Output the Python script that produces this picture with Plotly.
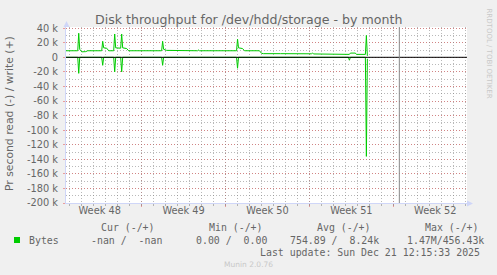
import plotly.graph_objects as go

# ---------------- data ----------------
write_times = [
    "2025-11-24 16:00", "2025-11-25 16:00", "2025-11-25 18:00", "2025-11-25 20:00",
    "2025-11-26 00:00", "2025-11-26 08:00", "2025-11-26 12:00", "2025-11-27 16:00",
    "2025-11-27 18:00", "2025-11-27 20:00", "2025-11-28 02:00", "2025-11-28 06:00",
    "2025-11-28 16:00", "2025-11-28 18:00", "2025-11-28 20:00", "2025-11-29 06:00",
    "2025-11-29 08:00", "2025-11-29 10:00", "2025-11-29 18:00", "2025-11-29 22:00",
    "2025-12-02 16:00", "2025-12-02 18:00", "2025-12-02 20:00", "2025-12-03 02:00",
    "2025-12-05 16:00", "2025-12-05 18:00", "2025-12-05 20:00", "2025-12-08 06:00",
    "2025-12-08 08:00", "2025-12-08 10:00", "2025-12-08 22:00", "2025-12-09 00:00",
    "2025-12-09 02:00", "2025-12-09 10:00", "2025-12-09 14:00", "2025-12-10 20:00",
    "2025-12-11 00:00", "2025-12-11 04:00", "2025-12-12 08:00", "2025-12-12 10:00",
    "2025-12-12 14:00", "2025-12-15 04:00", "2025-12-15 06:00", "2025-12-15 08:00",
    "2025-12-18 08:00", "2025-12-18 10:00", "2025-12-18 20:00", "2025-12-18 22:00",
    "2025-12-19 16:00", "2025-12-19 18:00", "2025-12-19 20:00",
]
write_vals = [
    9000, 9000, 33000, 11000,
    7500, 7800, 9000, 9000,
    22000, 13000, 12500, 9000,
    9000, 32000, 13000, 12500,
    32000, 13000, 12000, 9000,
    9000, 22000, 11000, 9500,
    9000, 10000, 9000, 9000,
    10000, 9000, 9000, 25000,
    13000, 12000, 9000, 9000,
    5500, 5000, 5000, 6000,
    5000, 4800, 6000, 4600,
    4000, 5800, 5800, 4000,
    4000, 30000, 2000,
]

read_times = [
    "2025-11-24 16:00", "2025-11-25 16:00", "2025-11-25 18:00", "2025-11-25 20:00",
    "2025-11-27 16:00", "2025-11-27 18:00", "2025-11-27 20:00",
    "2025-11-28 16:00", "2025-11-28 18:00", "2025-11-28 20:00",
    "2025-11-29 06:00", "2025-11-29 08:00", "2025-11-29 10:00",
    "2025-12-02 16:00", "2025-12-02 18:00", "2025-12-02 20:00",
    "2025-12-08 22:00", "2025-12-09 00:00", "2025-12-09 02:00",
    "2025-12-18 06:00", "2025-12-18 08:00", "2025-12-18 10:00",
    "2025-12-19 16:00", "2025-12-19 18:00", "2025-12-19 20:00",
]
read_vals = [
    0, 0, -22000, 0,
    0, -11000, 0,
    0, -20000, 0,
    0, -20000, 0,
    0, -11000, 0,
    0, -15000, 0,
    0, -4000, 0,
    0, -136000, -2000,
]

week_starts = ["2025-12-01", "2025-12-08", "2025-12-15", "2025-12-22"]
week_mids = ["2025-11-27 12:00", "2025-12-04 12:00", "2025-12-11 12:00",
             "2025-12-18 12:00", "2025-12-25 12:00"]
week_labels = ["Week 48", "Week 49", "Week 50", "Week 51", "Week 52"]

y_tickvals = [40000, 20000, 0, -20000, -40000, -60000, -80000, -100000,
              -120000, -140000, -160000, -180000, -200000]
y_ticktext = ["40 k", "20 k", "0", "-20 k", "-40 k", "-60 k", "-80 k", "-100 k",
              "-120 k", "-140 k", "-160 k", "-180 k", "-200 k"]

now_marker = "2025-12-22 12:00"
x_range = ["2025-11-24 16:30", "2025-12-28 03:30"]
y_range = [-200000, 41600]

legend_headers = ["Cur (-/+)", "Min (-/+)", "Avg (-/+)", "Max (-/+)"]
legend_name = "Bytes"
legend_values = ["-nan /  -nan", "0.00 /  0.00", "754.89 /  8.24k", "1.47M/456.43k"]
title_text = "Disk throughput for /dev/hdd/storage - by month"
ytitle_text = "Pr second read (-) / write (+)"
last_update = "Last update: Sun Dec 21 12:15:33 2025"
munin_text = "Munin 2.0.76"
side_text = "RRDTOOL / TOBI OETIKER"

# ---------------- layout helpers ----------------
W, H = 497, 275
L, R, T, B = 66, 30, 27, 72
PW, PH = W - L - R, H - T - B


def px(x):
    return (x - L) / PW


def py(y):
    return (T + PH - y) / PH


GREEN = "#00CC00"
FONT = "#666666"
AXIS = "#CFD6F8"
MGRID = "rgba(230,90,90,0.55)"
GRID = "rgba(128,128,128,0.55)"
DASH = "1px,2px"
SANS = "DejaVu Sans"
MONO = "DejaVu Sans Mono"

fig = go.Figure()
fig.add_trace(go.Scatter(x=read_times, y=read_vals, mode="lines",
                         line=dict(color=GREEN, width=1), hoverinfo="skip",
                         showlegend=False))
fig.add_trace(go.Scatter(x=write_times, y=write_vals, mode="lines",
                         line=dict(color=GREEN, width=1), hoverinfo="skip",
                         showlegend=False))
# invisible traces carrying the overlay axes (labels and daily grid)
fig.add_trace(go.Scatter(x=x_range, y=[None, None], xaxis="x2", mode="lines",
                         hoverinfo="skip", showlegend=False))
fig.add_trace(go.Scatter(x=x_range, y=[None, None], xaxis="x3", mode="lines",
                         hoverinfo="skip", showlegend=False))

fig.update_layout(
    width=W, height=H,
    margin=dict(l=L, r=R, t=T, b=B, pad=0),
    paper_bgcolor="#F0F0F0",
    plot_bgcolor="#FFFFFF",
    showlegend=False,
    # main x axis: week boundaries (red major grid)
    xaxis=dict(
        type="date", range=x_range,
        tickmode="array", tickvals=week_starts, showticklabels=False,
        showgrid=True, gridcolor=MGRID, griddash=DASH, gridwidth=1,
        ticks="outside", ticklen=3, tickcolor=MGRID, tickwidth=1,
        showline=True, linecolor=AXIS, linewidth=1,
        zeroline=False, fixedrange=True,
    ),
    # overlay: daily gray grid
    xaxis3=dict(
        type="date", range=x_range, overlaying="x", matches="x", anchor="y",
        side="bottom",
        tickmode="linear", tick0="2025-12-01", dtick=86400000,
        showticklabels=False,
        showgrid=True, gridcolor=GRID, griddash=DASH, gridwidth=1,
        ticks="outside", ticklen=2, tickcolor=GRID, tickwidth=1,
        showline=False, zeroline=False,
    ),
    # overlay: week labels
    xaxis2=dict(
        type="date", range=x_range, overlaying="x", matches="x", anchor="y",
        side="bottom",
        tickmode="array", tickvals=week_mids, ticktext=week_labels,
        showgrid=False, ticks="", showline=False, zeroline=False,
        tickfont=dict(family=SANS, size=9.8, color=FONT),
    ),
    yaxis=dict(
        range=y_range,
        tickmode="array", tickvals=y_tickvals, ticktext=y_ticktext,
        showgrid=True, gridcolor=MGRID, griddash=DASH, gridwidth=1,
        ticks="outside", ticklen=2, tickcolor=MGRID,
        minor=dict(dtick=10000, tick0=0, showgrid=True, gridcolor=GRID,
                   griddash=DASH, gridwidth=1),
        showline=True, linecolor=AXIS, linewidth=1,
        zeroline=False,
        tickfont=dict(family=SANS, size=9.8, color=FONT),
        ticklabelstandoff=3,
    ),
)

shapes = [
    # zero rule
    dict(type="line", xref="paper", x0=0, x1=1, yref="y", y0=0, y1=0,
         line=dict(color="#000000", width=1), layer="above"),
    # vertical marker
    dict(type="line", xref="x", x0=now_marker, x1=now_marker, yref="paper", y0=0, y1=1,
         line=dict(color="#8A8A8A", width=1), layer="above"),
    # axis arrows
    dict(type="path", xref="paper", yref="paper",
         path=f"M {px(63.5)} {py(27)} L {px(69.5)} {py(27)} L {px(66.5)} {py(21)} Z",
         fillcolor=AXIS, line=dict(width=0), layer="above"),
    dict(type="path", xref="paper", yref="paper",
         path=f"M {px(467)} {py(200.5)} L {px(467)} {py(206.5)} L {px(473)} {py(203.5)} Z",
         fillcolor=AXIS, line=dict(width=0), layer="above"),
    # legend swatch
    dict(type="rect", xref="paper", yref="paper",
         x0=px(14), x1=px(20), y0=py(243), y1=py(237),
         fillcolor=GREEN, line=dict(width=0)),
]
fig.update_layout(shapes=shapes)

ann = []


def add_text(text, x, y, size, color=FONT, family=SANS, xanchor="center", angle=0):
    ann.append(dict(text=text, xref="paper", yref="paper", x=px(x), y=py(y),
                    xanchor=xanchor, yanchor="middle", showarrow=False,
                    textangle=angle, font=dict(family=family, size=size, color=color)))


add_text(title_text, 248, 19, 12.6)
add_text(ytitle_text, 10, 114, 10.8, angle=-90)
add_text(side_text, 488.5, 53, 7, color="#C8C8C8", angle=90)

header_x = [98.7, 206.7, 315, 422.7]
for t, x in zip(legend_headers, header_x):
    add_text(t, x, 227.3, 9.9, family=MONO, xanchor="left")
add_text(legend_name, 26.7, 240, 9.9, family=MONO, xanchor="left")
value_x = [89.3, 194.3, 287.7, 405]
for t, x in zip(legend_values, value_x):
    add_text(t, x, 240, 9.9, family=MONO, xanchor="left")
add_text(last_update, 482.3, 252, 9.9, family=MONO, xanchor="right")
add_text(munin_text, 248, 264, 7.5, color="#C8C8C8")

fig.update_layout(annotations=ann)

fig.write_html("out.html")
